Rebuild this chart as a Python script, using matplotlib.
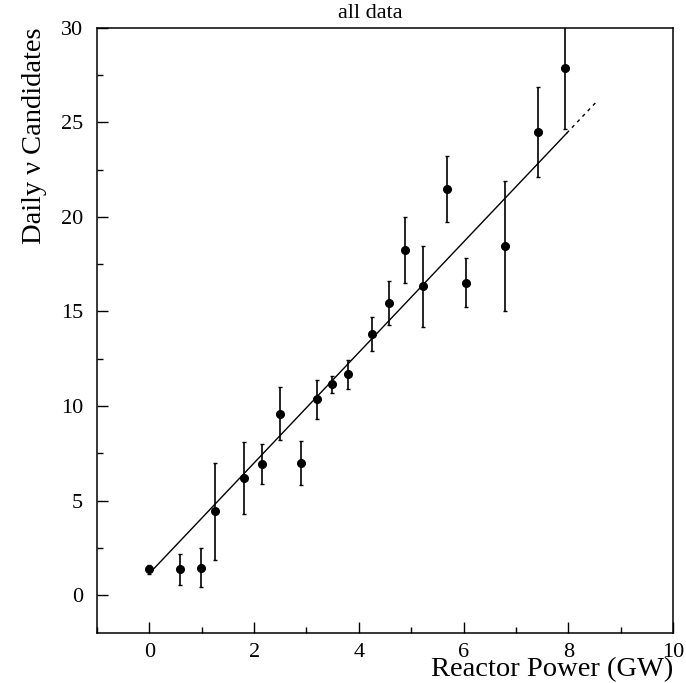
#!/usr/bin/env python3
"""
Daily candidates vs reactor power
"""

import numpy as np
import matplotlib
matplotlib.use('Agg')
import matplotlib.pyplot as plt
from matplotlib.ticker import MultipleLocator

plt.rcParams['font.family'] = ['Liberation Serif', 'DejaVu Serif']

# 数据
power = [0.00, 0.59, 0.98, 1.26, 1.81, 2.16, 2.49, 2.89, 3.20, 3.48, 3.79,
         4.25, 4.58, 4.89, 5.22, 5.68, 6.04, 6.79, 7.42, 7.94]
candidates = [1.36, 1.36, 1.46, 4.44, 6.20, 6.92, 9.60, 6.97, 10.35, 11.14, 11.67,
              13.80, 15.46, 18.24, 16.32, 21.48, 16.53, 18.45, 24.49, 27.87]
errors = [0.25, 0.80, 1.04, 2.57, 1.90, 1.05, 1.38, 1.16, 1.03, 0.46, 0.75,
          0.90, 1.15, 1.74, 2.14, 1.76, 1.31, 3.43, 2.40, 3.22]

# 拟合直线
fit_intercept = 1.15
fit_slope = 2.92
fit_solid_x = [0.03, 7.97]
fit_dashed_x = [7.97, 8.55]

fig = plt.figure(figsize=(6.86, 6.83), dpi=100)
ax = fig.add_axes([0.1414, 0.0732, 0.8396, 0.8862])

ax.errorbar(power, candidates, yerr=errors, fmt='o', color='black',
            markersize=5.5, elinewidth=1.2, capsize=1.6, capthick=1.0,
            clip_on=True)

xs = np.array(fit_solid_x)
ax.plot(xs, fit_intercept + fit_slope * xs, color='black', linewidth=1.0)
xd = np.array(fit_dashed_x)
ax.plot(xd, fit_intercept + fit_slope * xd, color='black', linewidth=1.0,
        linestyle=(0, (2.5, 3)))

ax.set_xlim(-1, 10)
ax.set_ylim(-2, 30)
ax.xaxis.set_major_locator(MultipleLocator(2))
ax.xaxis.set_minor_locator(MultipleLocator(1))
ax.yaxis.set_major_locator(MultipleLocator(5))
ax.yaxis.set_minor_locator(MultipleLocator(2.5))
ax.tick_params(which='both', direction='in', top=False, right=False,
               labelsize=16, width=1.0)
ax.tick_params(axis='y', pad=10)
ax.tick_params(axis='x', pad=7)
ax.tick_params(which='major', length=8)
ax.tick_params(which='minor', length=4.5)
for sp in ax.spines.values():
    sp.set_linewidth(1.1)

fig.text(370 / 686, 1 - 14 / 683, 'all data', ha='center', va='center', fontsize=16)
fig.text(673 / 686, 1 - 676 / 683, 'Reactor Power (GW)', ha='right', va='baseline',
         fontsize=20.5)
fig.text(35 / 686, 1 - 27 / 683, 'Daily ν Candidates', ha='center', va='top',
         rotation=90, fontsize=20.5)

plt.savefig('out.png', dpi=100)
